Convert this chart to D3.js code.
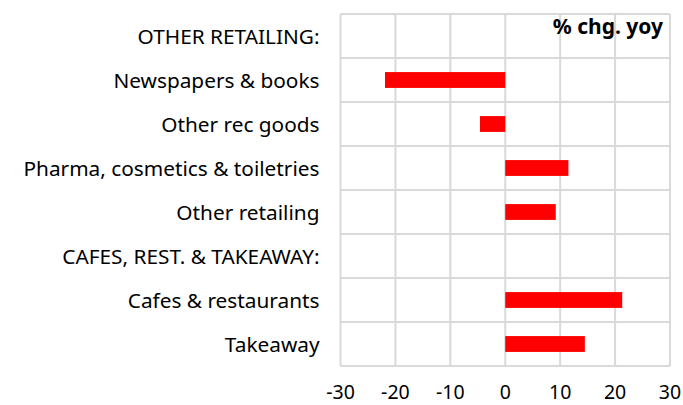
<!DOCTYPE html>
<html>
<head>
<meta charset="utf-8">
<script src="https://cdn.jsdelivr.net/npm/d3@7"></script>
<style>
  html, body { margin: 0; padding: 0; background: #fff; }
  svg { display: block; }
  text { font-family: "Noto Sans", "Open Sans", sans-serif; }
</style>
</head>
<body>
<svg id="chart" width="683" height="405"></svg>
<script>
// Categories (top to bottom) and their year-on-year % change
const categories = [
  "OTHER RETAILING:",
  "Newspapers & books",
  "Other rec goods",
  "Pharma, cosmetics & toiletries",
  "Other retailing",
  "CAFES, REST. & TAKEAWAY:",
  "Cafes & restaurants",
  "Takeaway"
];
const values = [null, -21.9, -4.6, 11.5, 9.2, null, 21.3, 14.5];
const xTicks = [-30, -20, -10, 0, 10, 20, 30];
const unitLabel = "% chg. yoy";

(function () {
  const svg = d3.select("#chart");
  const plotL = 340.5, plotR = 670, plotT = 14, plotB = 366;

  const x = d3.scaleLinear().domain([-30, 30]).range([plotL, plotR]);
  const y = d3.scaleBand().domain(categories).range([plotT, plotB]).paddingInner(0).paddingOuter(0);

  const grid = svg.append("g").attr("stroke", "#d9d9d9").attr("stroke-width", 2);

  // vertical gridlines at every tick
  grid.selectAll("line.v").data(xTicks).join("line")
    .attr("class", "v")
    .attr("x1", d => x(d)).attr("x2", d => x(d))
    .attr("y1", plotT).attr("y2", plotB);

  // horizontal separators between categories
  const bounds = categories.map(c => y(c)).concat([plotB]);
  grid.selectAll("line.h").data(bounds).join("line")
    .attr("class", "h")
    .attr("x1", plotL).attr("x2", plotR)
    .attr("y1", d => d).attr("y2", d => d);

  // bars
  const barH = y.bandwidth() * 0.36;
  svg.append("g").selectAll("rect")
    .data(categories.map((c, i) => ({ c, v: values[i] })).filter(d => d.v !== null))
    .join("rect")
    .attr("x", d => x(Math.min(0, d.v)))
    .attr("width", d => Math.abs(x(d.v) - x(0)))
    .attr("y", d => y(d.c) + (y.bandwidth() - barH) / 2)
    .attr("height", barH)
    .attr("fill", "#ff0000");

  // category labels
  svg.append("g").selectAll("text")
    .data(categories).join("text")
    .attr("x", 319.5)
    .attr("y", d => y(d) + y.bandwidth() / 2 + 8.3)
    .attr("text-anchor", "end")
    .attr("font-size", 20.8)
    .attr("fill", "#000")
    .text(d => d);

  // x axis tick labels
  svg.append("g").selectAll("text")
    .data(xTicks).join("text")
    .attr("x", d => x(d))
    .attr("y", 399)
    .attr("text-anchor", "middle")
    .attr("font-size", 19.5)
    .attr("fill", "#000")
    .text(d => d);

  // unit label
  svg.append("text")
    .attr("x", 663).attr("y", 33.5)
    .attr("text-anchor", "end")
    .attr("font-size", 21)
    .attr("font-weight", "bold")
    .attr("fill", "#000")
    .text(unitLabel);
})();
</script>
</body>
</html>
